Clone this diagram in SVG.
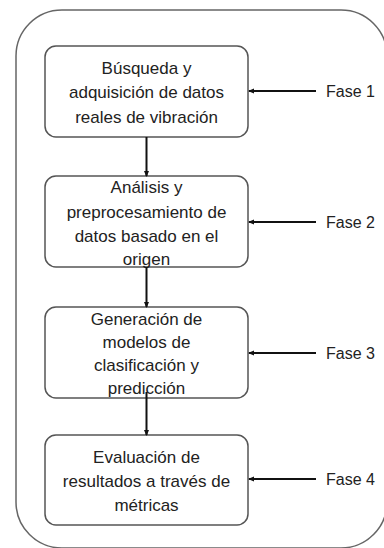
<svg xmlns="http://www.w3.org/2000/svg" width="384" height="548" viewBox="0 0 384 548">
<defs>
<style>
.box{fill:#fff;stroke:#555;stroke-width:1.5}
.t{font-family:"Liberation Sans",Arial,sans-serif;font-size:17px;fill:#222;text-anchor:middle}
.f{font-family:"Liberation Sans",Arial,sans-serif;font-size:16px;fill:#222}
.c{stroke:#111;stroke-width:2;fill:none;marker-end:url(#ah)}
</style>
<marker id="ah" markerWidth="6" markerHeight="6" refX="5" refY="3" orient="auto" markerUnits="userSpaceOnUse">
<path d="M0,0.5 L6,3 L0,5.5 Z" fill="#111"/>
</marker>
</defs>
<rect width="384" height="548" fill="#fff"/>
<rect id="frame" x="16" y="10" width="371" height="538" rx="46" ry="46" fill="none" stroke="#666" stroke-width="1.5"/>
<g id="n1">
<rect class="box" x="45" y="46" width="203" height="91" rx="11"/>
<text class="t" x="146.5" y="74">Búsqueda y</text>
<text class="t" x="146.5" y="98">adquisición de datos</text>
<text class="t" x="146.5" y="123">reales de vibración</text>
</g>
<g id="n2">
<rect class="box" x="45" y="176" width="203" height="91" rx="11"/>
<text class="t" x="146.5" y="193">Análisis y</text>
<text class="t" x="146.5" y="218">preprocesamiento de</text>
<text class="t" x="146.5" y="242">datos basado en el</text>
<text class="t" x="146.5" y="265">origen</text>
</g>
<g id="n3">
<rect class="box" x="45" y="307" width="203" height="91" rx="11"/>
<text class="t" x="146.5" y="325">Generación de</text>
<text class="t" x="146.5" y="348">modelos de</text>
<text class="t" x="146.5" y="371">clasificación y</text>
<text class="t" x="146.5" y="394">predicción</text>
</g>
<g id="n4">
<rect class="box" x="45" y="435" width="203" height="90" rx="11"/>
<text class="t" x="146.5" y="463">Evaluación de</text>
<text class="t" x="146.5" y="487">resultados a través de</text>
<text class="t" x="146.5" y="511">métricas</text>
</g>
<g id="labels">
<text class="f" x="326" y="97">Fase 1</text>
<text class="f" x="326" y="228">Fase 2</text>
<text class="f" x="326" y="359">Fase 3</text>
<text class="f" x="326" y="485">Fase 4</text>
</g>
<g id="connectors">
<line class="c" x1="146.5" y1="137" x2="146.5" y2="176"/>
<line class="c" x1="146.5" y1="267" x2="146.5" y2="307"/>
<line class="c" x1="146.5" y1="392" x2="146.5" y2="435"/>
<line class="c" x1="316" y1="91" x2="249" y2="91"/>
<line class="c" x1="316" y1="222" x2="249" y2="222"/>
<line class="c" x1="316" y1="353" x2="249" y2="353"/>
<line class="c" x1="316" y1="479" x2="249" y2="479"/>
</g>
</svg>
